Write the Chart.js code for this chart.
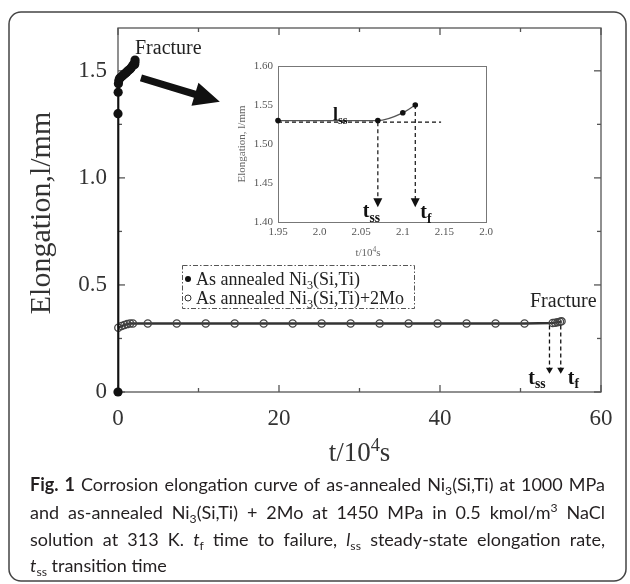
<!DOCTYPE html>
<html><head><meta charset="utf-8">
<script src="https://cdn.jsdelivr.net/npm/chart.js@4.4.1/dist/chart.umd.min.js"></script>
<style>
html,body{margin:0;padding:0;background:#fff;}
#wrap{position:relative;width:630px;height:584px;overflow:hidden;background:#fff;}
#main{position:absolute;left:0;top:0;}
#inset{position:absolute;left:225px;top:48px;}
</style></head><body>
<div id="wrap"><canvas id="main" width="630" height="584"></canvas><canvas id="inset" width="285" height="215"></canvas></div>
<script>
// ---------- data ----------
const annealedTime  = [0, 0, 0.02, 0.05, 0.1, 0.2, 0.35, 0.5, 0.65, 0.8, 0.95, 1.1, 1.25, 1.4, 1.55, 1.7, 1.85, 1.95, 2.07, 2.1, 2.115];
const annealedElong = [0, 1.30, 1.40, 1.44, 1.455, 1.465, 1.47, 1.475, 1.48, 1.485, 1.49, 1.495, 1.50, 1.505, 1.51, 1.518, 1.525, 1.53, 1.53, 1.54, 1.55];
const moTime  = [0.04, 0.45, 0.8, 1.15, 1.5, 1.85, 3.7, 7.3, 10.9, 14.5, 18.1, 21.7, 25.3, 28.9, 32.5, 36.1, 39.7, 43.3, 46.9, 50.5, 54.0, 54.3, 54.6, 54.9, 55.1];
const moElong = [0.30, 0.308, 0.313, 0.317, 0.32, 0.32, 0.32, 0.32, 0.32, 0.32, 0.32, 0.32, 0.32, 0.32, 0.32, 0.32, 0.32, 0.32, 0.32, 0.32, 0.322, 0.324, 0.326, 0.328, 0.33];
const insetTime  = [1.95, 2.07, 2.10, 2.115];
const insetElong = [1.53, 1.53, 1.54, 1.55];
const insetSteadyLevel = 1.528;
const insetTss = 2.07, insetTf = 2.115, insetArrowEnd = 1.419, insetSteadyEnd = 2.146;
const mainTss = 53.6, mainTf = 55.0, mainArrowStart = 0.31, mainArrowEnd = 0.085;

const mainXMajor = [0, 20, 40, 60];
const mainXMajorLabels = ['0', '20', '40', '60'];
const mainXMinor = [10, 30, 50];
const mainYMajor = [0, 0.5, 1.0, 1.5];
const mainYMajorLabels = ['0', '0.5', '1.0', '1.5'];
const mainYMinor = [0.25, 0.75, 1.25];
const insetXTicks = [1.95, 2.0, 2.05, 2.1, 2.15, 2.2];
const insetXLabels = ['1.95', '2.0', '2.05', '2.1', '2.15', '2.0'];
const insetYTicks = [1.40, 1.45, 1.50, 1.55, 1.60];
const insetYLabels = ['1.40', '1.45', '1.50', '1.55', '1.60'];

const legendLabels = [
  [{t:'As annealed Ni'},{t:'3',sub:1},{t:'(Si,Ti)'}],
  [{t:'As annealed Ni'},{t:'3',sub:1},{t:'(Si,Ti)+2Mo'}]
];
const captionLines = [
  [{t:'Fig. 1',b:1},{t:' Corrosion elongation curve of as-annealed Ni'},{t:'3',sub:1},{t:'(Si,Ti) at 1000 MPa'}],
  [{t:'and as-annealed Ni'},{t:'3',sub:1},{t:'(Si,Ti) + 2Mo at 1450 MPa in 0.5 kmol/m'},{t:'3',sup:1},{t:' NaCl'}],
  [{t:'solution at 313 K. '},{t:'t',i:1},{t:'f',sub:1},{t:' time to failure, '},{t:'l',i:1},{t:'ss',sub:1},{t:' steady-state elongation rate,'}],
  [{t:'t',i:1},{t:'ss',sub:1},{t:' transition time'}]
];

// ---------- helpers ----------
const SERIF = '"Liberation Serif","Times New Roman",serif';
const SANS = 'Lato,"Open Sans",sans-serif';

function richPieces(ctx, runs, size, family, bold){
  const fontFor = r => `${r.i?'italic ':''}${(r.b||bold)?'bold ':''}${(r.sub||r.sup)? (size*0.68).toFixed(1) : size}px ${family}`;
  const pieces = [];
  runs.forEach(r => r.t.split(/( )/).forEach(p => { if (p !== '') pieces.push({text:p, r, space:p===' ', font:fontFor(r)}); }));
  let nat = 0, nsp = 0;
  pieces.forEach(p => { ctx.font = p.font; p.w = ctx.measureText(p.text).width; nat += p.w; if (p.space) nsp++; });
  return {pieces, nat, nsp};
}
function drawRich(ctx, runs, x0, yBase, opts){
  const {size, family, bold=false, sx=1, target=0, justify=false, align='left'} = opts;
  const info = richPieces(ctx, runs, size, family, bold);
  const extra = (justify && info.nsp) ? Math.max(0, (target/sx - info.nat)/info.nsp) : 0;
  ctx.save();
  let startX = x0;
  if (align === 'right') startX = x0 - info.nat*sx;
  if (align === 'center') startX = x0 - info.nat*sx/2;
  ctx.translate(startX, yBase); ctx.scale(sx, 1);
  ctx.textAlign = 'left'; ctx.textBaseline = 'alphabetic';
  let cx = 0;
  info.pieces.forEach(p => {
    ctx.font = p.font;
    const dy = p.r.sub ? size*0.22 : (p.r.sup ? -size*0.38 : 0);
    if (!p.space) ctx.fillText(p.text, cx, dy);
    cx += p.w + (p.space ? extra : 0);
  });
  ctx.restore();
  return info.nat*sx;
}
function arrowHead(ctx, x, yTip, w, h){
  ctx.beginPath(); ctx.moveTo(x, yTip); ctx.lineTo(x - w/2, yTip - h); ctx.lineTo(x + w/2, yTip - h); ctx.closePath(); ctx.fill();
}

// ---------- main chart plugin ----------
const mainDecor = {
  id: 'mainDecor',
  beforeDatasetsDraw(chart){
    const {ctx, chartArea:a, scales:{x, y}} = chart;
    ctx.save();
    ctx.strokeStyle = '#555'; ctx.lineWidth = 1.3;
    ctx.strokeRect(a.left, a.top, a.right - a.left, a.bottom - a.top);
    const seg = (x1,y1,x2,y2) => { ctx.beginPath(); ctx.moveTo(x1,y1); ctx.lineTo(x2,y2); ctx.stroke(); };
    mainXMajor.forEach(v => { const p = x.getPixelForValue(v); seg(p, a.bottom, p, a.bottom-7); seg(p, a.top, p, a.top+7); });
    mainXMinor.forEach(v => { const p = x.getPixelForValue(v); seg(p, a.bottom, p, a.bottom-4); seg(p, a.top, p, a.top+4); });
    mainYMajor.forEach(v => { const p = y.getPixelForValue(v); seg(a.left, p, a.left+7, p); seg(a.right, p, a.right-7, p); });
    mainYMinor.forEach(v => { const p = y.getPixelForValue(v); seg(a.left, p, a.left+4, p); seg(a.right, p, a.right-4, p); });
    ctx.restore();
  },
  afterDraw(chart){
    const {ctx, chartArea:a, scales:{x, y}} = chart;
    const X = v => x.getPixelForValue(v), Y = v => y.getPixelForValue(v);
    ctx.save();
    // outer rounded frame
    ctx.strokeStyle = '#444'; ctx.lineWidth = 1.5;
    ctx.beginPath(); ctx.roundRect(9, 12, 617, 569, 12); ctx.stroke();

    // axis titles
    ctx.fillStyle = '#333';
    ctx.save(); ctx.translate(42, (a.top + a.bottom)/2 + 3); ctx.rotate(-Math.PI/2);
    ctx.font = `30px ${SERIF}`; ctx.textAlign = 'center'; ctx.textBaseline = 'middle';
    ctx.fillText('Elongation,l/mm', 0, 0); ctx.restore();
    drawRich(ctx, [{t:'t/10'},{t:'4',sup:1},{t:'s'}], (a.left + a.right)/2, 461, {size:27, family:SERIF, align:'center'});

    // Fracture labels
    ctx.fillStyle = '#222';
    ctx.font = `20px ${SERIF}`; ctx.textAlign = 'left'; ctx.textBaseline = 'middle';
    ctx.fillText('Fracture', 135, 49);
    ctx.fillText('Fracture', 530, 302);

    // big arrow
    const sx0 = X(2.85), sy0 = Y(1.467), tx = X(12.65), ty = Y(1.355);
    const L = Math.hypot(tx - sx0, ty - sy0), ux = (tx - sx0)/L, uy = (ty - sy0)/L, nx = -uy, ny = ux;
    const hw = 3.6, hh = 12, hl = 26, bx = tx - ux*hl, by = ty - uy*hl;
    ctx.fillStyle = '#111';
    ctx.beginPath();
    ctx.moveTo(sx0 + nx*hw, sy0 + ny*hw);
    ctx.lineTo(bx + nx*hw, by + ny*hw);
    ctx.lineTo(bx + nx*hh, by + ny*hh);
    ctx.lineTo(tx, ty);
    ctx.lineTo(bx - nx*hh, by - ny*hh);
    ctx.lineTo(bx - nx*hw, by - ny*hw);
    ctx.lineTo(sx0 - nx*hw, sy0 - ny*hw);
    ctx.closePath(); ctx.fill();

    // dashed arrows t_ss / t_f
    ctx.strokeStyle = '#111'; ctx.lineWidth = 1.3; ctx.setLineDash([4, 3]);
    [mainTss, mainTf].forEach(t => {
      ctx.beginPath(); ctx.moveTo(X(t), Y(mainArrowStart)); ctx.lineTo(X(t), Y(mainArrowEnd) - 5); ctx.stroke();
    });
    ctx.setLineDash([]);
    [mainTss, mainTf].forEach(t => arrowHead(ctx, X(t), Y(mainArrowEnd), 7, 6));
    ctx.fillStyle = '#111';
    drawRich(ctx, [{t:'t'},{t:'ss',sub:1}], X(mainTss) - 4, 384, {size:20, family:SERIF, bold:true, align:'right'});
    drawRich(ctx, [{t:'t'},{t:'f',sub:1}], X(mainTf) + 7, 384, {size:20, family:SERIF, bold:true});

    // legend
    ctx.strokeStyle = '#555'; ctx.lineWidth = 1; ctx.setLineDash([5, 2, 1.5, 2]);
    ctx.strokeRect(182.5, 265.5, 232, 43);
    ctx.setLineDash([]);
    ctx.fillStyle = '#111';
    ctx.beginPath(); ctx.arc(188, 279, 3, 0, Math.PI*2); ctx.fill();
    ctx.strokeStyle = '#333'; ctx.lineWidth = 1;
    ctx.beginPath(); ctx.arc(188, 298, 3, 0, Math.PI*2); ctx.stroke();
    ctx.fillStyle = '#222';
    drawRich(ctx, legendLabels[0], 196, 285, {size:18, family:SERIF});
    drawRich(ctx, legendLabels[1], 196, 304, {size:18, family:SERIF});

    // caption
    const capLeft = 30, capRight = 605, target = capRight - capLeft, capSize = 18;
    let maxNat = 0;
    captionLines.slice(0, 3).forEach(r => { maxNat = Math.max(maxNat, richPieces(ctx, r, capSize, SANS, false).nat); });
    const sxc = Math.min(1, (target*0.985)/maxNat);
    ctx.fillStyle = '#231f20';
    const baselines = [491, 519, 546, 572];
    captionLines.forEach((r, i) => {
      drawRich(ctx, r, capLeft, baselines[i], {size:capSize, family:SANS, sx:sxc, target, justify: i < 3});
    });
    ctx.restore();
  }
};

new Chart(document.getElementById('main'), {
  type: 'line',
  data: { datasets: [
    { label: 'As annealed Ni3(Si,Ti)', data: annealedTime.map((t,i) => ({x:t, y:annealedElong[i]})),
      borderColor: '#111', borderWidth: 2, pointRadius: 4.6, pointBackgroundColor: '#111', pointBorderColor: '#111', pointBorderWidth: 0, tension: 0, clip: false },
    { label: 'As annealed Ni3(Si,Ti)+2Mo', data: moTime.map((t,i) => ({x:t, y:moElong[i]})),
      borderColor: '#333', borderWidth: 2.4, pointRadius: 3.6, pointBackgroundColor: 'rgba(0,0,0,0)', pointBorderColor: '#444', pointBorderWidth: 1.3, tension: 0, clip: false }
  ]},
  options: {
    responsive: false, animation: false, devicePixelRatio: 1,
    layout: { padding: { top: 28, right: 29, left: 0, bottom: 0 } },
    plugins: { legend: { display: false }, tooltip: { enabled: false } },
    scales: {
      x: { type: 'linear', min: 0, max: 60, position: 'bottom',
        afterBuildTicks: s => { s.ticks = mainXMajor.map(v => ({value: v})); },
        afterFit: s => { s.height = 192; },
        grid: { display: false, drawTicks: false }, border: { display: false },
        ticks: { callback: v => { const i = mainXMajor.indexOf(v); return i >= 0 ? mainXMajorLabels[i] : ''; },
          font: { family: SERIF, size: 23 }, color: '#333', padding: 13, maxRotation: 0, autoSkip: false } },
      y: { type: 'linear', min: 0, max: 1.7, position: 'left',
        afterBuildTicks: s => { s.ticks = mainYMajor.map(v => ({value: v})); },
        afterFit: s => { s.width = 118; },
        grid: { display: false, drawTicks: false }, border: { display: false },
        ticks: { callback: v => { const i = mainYMajor.indexOf(v); return i >= 0 ? mainYMajorLabels[i] : ''; },
          font: { family: SERIF, size: 23 }, color: '#333', padding: 11, autoSkip: false } }
    }
  },
  plugins: [mainDecor]
});

// ---------- inset chart ----------
const insetDecor = {
  id: 'insetDecor',
  beforeDatasetsDraw(chart){
    const {ctx, chartArea:a} = chart;
    ctx.save(); ctx.strokeStyle = '#777'; ctx.lineWidth = 1;
    ctx.strokeRect(a.left + 0.5, a.top + 0.5, a.right - a.left, a.bottom - a.top);
    ctx.restore();
  },
  afterDraw(chart){
    const {ctx, chartArea:a, scales:{x, y}} = chart;
    const X = v => x.getPixelForValue(v), Y = v => y.getPixelForValue(v);
    ctx.save();
    ctx.fillStyle = '#666';
    ctx.save(); ctx.translate(17, (a.top + a.bottom)/2); ctx.rotate(-Math.PI/2);
    ctx.font = `11px ${SERIF}`; ctx.textAlign = 'center'; ctx.textBaseline = 'middle';
    ctx.fillText('Elongation, l/mm', 0, 0); ctx.restore();
    drawRich(ctx, [{t:'t/10'},{t:'4',sup:1},{t:'s'}], (a.left + a.right)/2 - 14, 208, {size:11, family:SERIF, align:'center'});

    ctx.strokeStyle = '#111'; ctx.lineWidth = 1.2; ctx.setLineDash([4, 3]);
    ctx.beginPath(); ctx.moveTo(X(insetTime[0]), Y(insetSteadyLevel)); ctx.lineTo(X(insetSteadyEnd), Y(insetSteadyLevel)); ctx.stroke();
    ctx.beginPath(); ctx.moveTo(X(insetTss), Y(insetSteadyLevel)); ctx.lineTo(X(insetTss), Y(insetArrowEnd) - 8); ctx.stroke();
    ctx.beginPath(); ctx.moveTo(X(insetTf), Y(insetElong[3])); ctx.lineTo(X(insetTf), Y(insetArrowEnd) - 8); ctx.stroke();
    ctx.setLineDash([]);
    ctx.fillStyle = '#111';
    arrowHead(ctx, X(insetTss), Y(insetArrowEnd), 9, 9);
    arrowHead(ctx, X(insetTf), Y(insetArrowEnd), 9, 9);
    drawRich(ctx, [{t:'l'},{t:'ss',sub:1}], X(2.016), Y(1.531), {size:18, family:SERIF, bold:true});
    drawRich(ctx, [{t:'t'},{t:'ss',sub:1}], X(insetTss) - 15, Y(1.406), {size:20, family:SERIF, bold:true});
    drawRich(ctx, [{t:'t'},{t:'f',sub:1}], X(insetTf) + 5, Y(1.405), {size:20, family:SERIF, bold:true});
    ctx.restore();
  }
};

new Chart(document.getElementById('inset'), {
  type: 'line',
  data: { datasets: [
    { data: insetTime.map((t,i) => ({x:t, y:insetElong[i]})), borderColor: '#555', borderWidth: 1.3,
      pointRadius: 2.8, pointBackgroundColor: '#111', pointBorderColor: '#111', pointBorderWidth: 0,
      cubicInterpolationMode: 'monotone', clip: false }
  ]},
  options: {
    responsive: false, animation: false, devicePixelRatio: 1,
    layout: { padding: { top: 18, right: 24, left: 0, bottom: 0 } },
    plugins: { legend: { display: false }, tooltip: { enabled: false } },
    scales: {
      x: { type: 'linear', min: 1.95, max: 2.2,
        afterBuildTicks: s => { s.ticks = insetXTicks.map(v => ({value: v})); },
        afterFit: s => { s.height = 41; },
        grid: { display: false, drawTicks: false }, border: { display: false },
        ticks: { callback: (v, i) => insetXLabels[i], font: { family: SERIF, size: 11 }, color: '#555', padding: 4, maxRotation: 0, autoSkip: false } },
      y: { type: 'linear', min: 1.40, max: 1.60,
        afterBuildTicks: s => { s.ticks = insetYTicks.map(v => ({value: v})); },
        afterFit: s => { s.width = 53; },
        grid: { display: false, drawTicks: false }, border: { display: false },
        ticks: { callback: (v, i) => insetYLabels[i], font: { family: SERIF, size: 11 }, color: '#555', padding: 5, autoSkip: false } }
    }
  },
  plugins: [insetDecor]
});
</script>
</body></html>
